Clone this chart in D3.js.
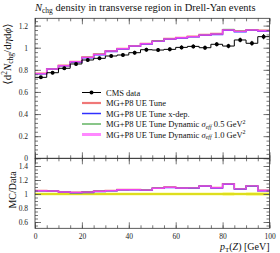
<!DOCTYPE html>
<html>
<head>
<meta charset="utf-8">
<script src="https://cdn.jsdelivr.net/npm/d3@7"></script>
<style>
body { margin:0; background:#fff; }
svg { font-family: "Liberation Serif", "DejaVu Serif", serif; }
</style>
</head>
<body>
<script>
// bin edges in pT(Z), 5 GeV wide
let edges = d3.range(0, 105, 5);

let cmsData = [0.732, 0.774, 0.814, 0.853, 0.889, 0.904, 0.925, 0.934, 0.955, 0.982,
               0.979, 0.985, 1.003, 1.012, 1.000, 1.031, 1.015, 1.070, 1.040, 1.100];
let cmsErr  = [0.014, 0.014, 0.015, 0.015, 0.016, 0.016, 0.016, 0.016, 0.017, 0.017,
               0.018, 0.018, 0.018, 0.018, 0.019, 0.019, 0.020, 0.021, 0.022, 0.024];

let ueTune    = [0.768, 0.810, 0.840, 0.875, 0.916, 0.943, 0.972, 0.993, 1.017, 1.038,
                 1.063, 1.082, 1.093, 1.103, 1.118, 1.127, 1.163, 1.151, 1.163, 1.157];
let ueXdep    = [0.764, 0.806, 0.835, 0.868, 0.908, 0.936, 0.966, 0.988, 1.012, 1.033,
                 1.057, 1.076, 1.087, 1.098, 1.111, 1.119, 1.156, 1.144, 1.157, 1.151];
let ueDyn05   = [0.766, 0.808, 0.838, 0.872, 0.913, 0.941, 0.970, 0.991, 1.016, 1.037,
                 1.062, 1.080, 1.092, 1.101, 1.116, 1.125, 1.166, 1.150, 1.161, 1.156];
let ueDyn10   = [0.766, 0.807, 0.837, 0.873, 0.913, 0.940, 0.970, 0.991, 1.015, 1.036,
                 1.060, 1.079, 1.090, 1.100, 1.115, 1.124, 1.160, 1.148, 1.160, 1.154];

let yTicks = [0, 0.2, 0.4, 0.6, 0.8, 1, 1.2];
let rTicks = [0.6, 0.8, 1, 1.2, 1.4];
let xTicks = [0, 20, 40, 60, 80, 100];

let mcSeries = [
  {name: "MG+P8 UE Tune", vals: ueTune, color: "#f07878", width: 1.6, lw: 2.2},
  {name: "MG+P8 UE Tune x-dep.", vals: ueXdep, color: "#3030ff", width: 1.3, lw: 1.5},
  {name: "MG+P8 UE Tune Dynamic", sig: "0.5", vals: ueDyn05, color: "#3aa03a", width: 1, lw: 1.2},
  {name: "MG+P8 UE Tune Dynamic", sig: "1.0", vals: ueDyn10, color: "#ee44ee", width: 1.4, lw: 3, lcolor: "#ff88ff"}
];

let w = 280, h = 253;
let left = 35, right = 269.5;
let mainTop = 18.3, mainBot = 158.3, ratBot = 228.3;

let x = d3.scaleLinear().domain([0, 100]).range([left, right]);
let y = d3.scaleLinear().domain([0, 1.266]).range([mainBot, mainTop]);
let yr = d3.scaleLinear().domain([0.51, 1.51]).range([ratBot, mainBot]);

let svg = d3.select("body").append("svg")
  .attr("width", w).attr("height", h);

// histogram step path helper
function steps(vals) {
  let pts = [];
  vals.forEach((v, i) => { pts.push([edges[i], v]); pts.push([edges[i + 1], v]); });
  return pts;
}

let lineMain = d3.line().x(d => x(d[0])).y(d => y(d[1]));
let lineRat = d3.line().x(d => x(d[0])).y(d => yr(d[1]));

// ---- ratio band (data uncertainty)
let bandPts = [];
cmsData.forEach((v, i) => {
  bandPts.push([edges[i], 1 + cmsErr[i] / v, 1 - cmsErr[i] / v]);
  bandPts.push([edges[i + 1], 1 + cmsErr[i] / v, 1 - cmsErr[i] / v]);
});
svg.append("path")
  .attr("d", d3.area().x(d => x(d[0])).y0(d => yr(d[2])).y1(d => yr(d[1]))(bandPts))
  .attr("fill", "#f4f43a");
svg.append("line")
  .attr("x1", x(0)).attr("x2", x(100)).attr("y1", yr(1)).attr("y2", yr(1))
  .attr("stroke", "#c8c800").attr("stroke-width", 1);

// ---- MC lines
mcSeries.forEach(s => {
  svg.append("path")
    .attr("d", lineMain(steps(s.vals)))
    .attr("fill", "none").attr("stroke", s.color).attr("stroke-width", s.width);
  svg.append("path")
    .attr("d", lineRat(steps(s.vals.map((v, i) => v / cmsData[i]))))
    .attr("fill", "none").attr("stroke", s.color).attr("stroke-width", s.width);
});

// ---- data
svg.append("path")
  .attr("d", lineMain(steps(cmsData)))
  .attr("fill", "none").attr("stroke", "#000").attr("stroke-width", 1);
let centers = cmsData.map((v, i) => (edges[i] + edges[i + 1]) / 2);
svg.append("g").selectAll("line")
  .data(cmsData).enter().append("line")
  .attr("x1", (d, i) => x(centers[i])).attr("x2", (d, i) => x(centers[i]))
  .attr("y1", (d, i) => y(d - cmsErr[i])).attr("y2", (d, i) => y(d + cmsErr[i]))
  .attr("stroke", "#000").attr("stroke-width", 1);
svg.append("g").selectAll("circle")
  .data(cmsData).enter().append("circle")
  .attr("cx", (d, i) => x(centers[i])).attr("cy", d => y(d))
  .attr("r", 2).attr("fill", "#000");

// ---- axes (ticks point inward)
let minorY = d3.range(0, 1.27, 0.04);
let minorR = d3.range(0.55, 1.5, 0.05);
let minorX = d3.range(0, 101, 5);
let fmt = d3.format("~g");

function axisG(a, tx, ty) {
  let g = svg.append("g").attr("transform", "translate(" + tx + "," + ty + ")").call(a);
  g.select(".domain").remove();
  g.selectAll("line").attr("stroke", "#555").attr("stroke-width", 0.8);
  g.selectAll("text").attr("font-family", "Liberation Serif, serif").attr("font-size", 7.5).attr("fill", "#222");
  return g;
}

// main panel
axisG(d3.axisLeft(y).tickValues(yTicks).tickSize(-6).tickPadding(7).tickFormat(fmt), left, 0);
axisG(d3.axisLeft(y).tickValues(minorY).tickSize(-3).tickFormat(""), left, 0);
axisG(d3.axisRight(y).tickValues(yTicks).tickSize(-6).tickFormat(""), right, 0);
axisG(d3.axisRight(y).tickValues(minorY).tickSize(-3).tickFormat(""), right, 0);
axisG(d3.axisTop(x).tickValues(xTicks).tickSize(-6).tickFormat(""), 0, mainTop);
axisG(d3.axisTop(x).tickValues(minorX).tickSize(-3).tickFormat(""), 0, mainTop);
axisG(d3.axisBottom(x).tickValues(xTicks).tickSize(-6).tickFormat(""), 0, mainBot);
axisG(d3.axisBottom(x).tickValues(minorX).tickSize(-3).tickFormat(""), 0, mainBot);

// ratio panel
axisG(d3.axisLeft(yr).tickValues(rTicks).tickSize(-6).tickPadding(7).tickFormat(fmt), left, 0);
axisG(d3.axisLeft(yr).tickValues(minorR).tickSize(-3).tickFormat(""), left, 0);
axisG(d3.axisRight(yr).tickValues(rTicks).tickSize(-6).tickFormat(""), right, 0);
axisG(d3.axisRight(yr).tickValues(minorR).tickSize(-3).tickFormat(""), right, 0);
axisG(d3.axisTop(x).tickValues(xTicks).tickSize(-6).tickFormat(""), 0, mainBot);
axisG(d3.axisTop(x).tickValues(minorX).tickSize(-3).tickFormat(""), 0, mainBot);
axisG(d3.axisBottom(x).tickValues(xTicks).tickSize(-6).tickPadding(5).tickFormat(fmt), 0, ratBot);
axisG(d3.axisBottom(x).tickValues(minorX).tickSize(-3).tickFormat(""), 0, ratBot);

// frames
[[mainTop, mainBot], [mainBot, ratBot]].forEach(p => {
  svg.append("rect")
    .attr("x", left).attr("y", p[0]).attr("width", right - left).attr("height", p[1] - p[0])
    .attr("fill", "none").attr("stroke", "#333").attr("stroke-width", 0.8);
});

// ---- title
let title = svg.append("text").attr("x", 35).attr("y", 11).attr("font-size", 10.5).attr("fill", "#111");
title.append("tspan").attr("font-style", "italic").text("N");
title.append("tspan").attr("font-size", 7.5).attr("dy", 2).text("chg");
title.append("tspan").attr("dy", -2).text(" density in transverse region in Drell-Yan events");

// ---- axis labels
let yl = svg.append("text")
  .attr("transform", "translate(11," + 54 + ") rotate(-90)")
  .attr("text-anchor", "middle").attr("font-size", 11).attr("fill", "#111");
yl.append("tspan").text("\u27E8d");
yl.append("tspan").attr("font-size", 7.5).attr("dy", -4).text("2");
yl.append("tspan").attr("dy", 4).attr("font-style", "italic").text("N");
yl.append("tspan").attr("font-size", 7.5).attr("dy", 2).text("chg");
yl.append("tspan").attr("dy", -2).text("/d");
yl.append("tspan").attr("font-style", "italic").text("\u03B7");
yl.append("tspan").text("d");
yl.append("tspan").attr("font-style", "italic").text("\u03D5");
yl.append("tspan").text("\u27E9");

svg.append("text")
  .attr("transform", "translate(16," + 190 + ") rotate(-90)")
  .attr("text-anchor", "middle").attr("font-size", 10).attr("fill", "#111")
  .text("MC/Data");

let xl = svg.append("text").attr("x", 269.5).attr("y", 250).attr("text-anchor", "end")
  .attr("font-size", 10).attr("fill", "#111");
xl.append("tspan").attr("font-style", "italic").text("p");
xl.append("tspan").attr("font-size", 7).attr("dy", 2).text("T");
xl.append("tspan").attr("dy", -2).text("(");
xl.append("tspan").attr("font-style", "italic").text("Z");
xl.append("tspan").text(") [GeV]");

// ---- legend
let lx0 = 82, lx1 = 101, tx = 106, ly0 = 92.5, ldy = 10.5;
let leg = svg.append("g");
leg.append("line").attr("x1", lx0).attr("x2", lx1).attr("y1", ly0).attr("y2", ly0)
  .attr("stroke", "#000").attr("stroke-width", 1);
leg.append("circle").attr("cx", (lx0 + lx1) / 2).attr("cy", ly0).attr("r", 2).attr("fill", "#000");
leg.append("text").attr("x", tx).attr("y", ly0 + 3).attr("font-size", 8.5).attr("fill", "#111").text("CMS data");

mcSeries.forEach((s, i) => {
  let yy = ly0 + ldy * (i + 1);
  leg.append("line").attr("x1", lx0).attr("x2", lx1).attr("y1", yy).attr("y2", yy)
    .attr("stroke", s.lcolor || s.color).attr("stroke-width", s.lw);
  let t = leg.append("text").attr("x", tx).attr("y", yy + 3).attr("font-size", 8.5).attr("fill", "#111");
  t.append("tspan").text(s.name);
  if (s.sig) {
    t.append("tspan").attr("font-style", "italic").text(" \u03C3");
    t.append("tspan").attr("font-style", "italic").attr("font-size", 6).attr("dy", 1.5).text("eff");
    t.append("tspan").attr("dy", -1.5).text(" " + s.sig + " GeV");
    t.append("tspan").attr("font-size", 6).attr("dy", -3.5).text("2");
  }
});
</script>
</body>
</html>
